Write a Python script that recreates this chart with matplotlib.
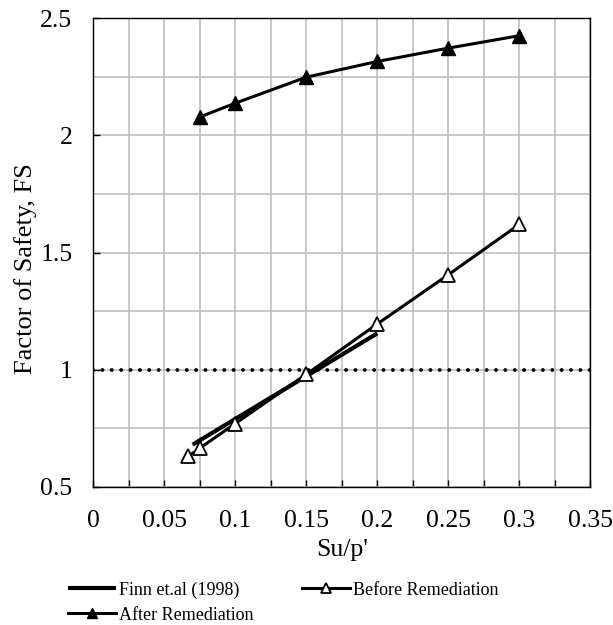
import matplotlib.pyplot as plt
import numpy as np
from matplotlib.ticker import MultipleLocator

plt.rcParams['font.family'] = ['Liberation Serif', 'DejaVu Serif']

# data
finn_x = [0.07, 0.2]
finn_fs = [0.68, 1.155]

before_x = [0.067, 0.075, 0.1, 0.15, 0.2, 0.25, 0.3]
before_fs = [0.63, 0.665, 0.77, 0.98, 1.195, 1.405, 1.62]

after_x = [0.075, 0.1, 0.15, 0.2, 0.25, 0.3]
after_fs = [2.078, 2.137, 2.248, 2.315, 2.372, 2.425]

x_ticks = [0, 0.05, 0.1, 0.15, 0.2, 0.25, 0.3, 0.35]
x_labels = ['0', '0.05', '0.1', '0.15', '0.2', '0.25', '0.3', '0.35']
y_ticks = [0.5, 1, 1.5, 2, 2.5]
y_labels = ['0.5', '1', '1.5', '2', '2.5']

fig = plt.figure(figsize=(6.13, 6.25), dpi=100)
ax = fig.add_axes([0.152, 0.221, 0.811, 0.750])

l_finn, = ax.plot(finn_x, finn_fs, color='black', lw=3, solid_capstyle='butt',
                  label='Finn et.al (1998)', zorder=3)
l_before, = ax.plot(before_x, before_fs, color='black', lw=2.2, marker='^', ms=10, mfc='white',
                    mec='black', mew=1.3, label='Before Remediation', zorder=4)
l_after, = ax.plot(after_x, after_fs, color='black', lw=2.2, marker='^', ms=10.5, mfc='black',
                   mec='black', label='After Remediation', zorder=4)
ax.axhline(1.0, color='black', lw=2.8, ls=(0, (0.01, 2.4)), dash_capstyle='round', zorder=2)

ax.set_xlim(0, 0.35)
ax.set_ylim(0.5, 2.5)
ax.set_xticks(x_ticks, x_labels)
ax.set_yticks(y_ticks, y_labels)
ax.xaxis.set_minor_locator(MultipleLocator(0.025))
ax.yaxis.set_minor_locator(MultipleLocator(0.25))
ax.grid(which='both', color='#bfbfbf', lw=1.2, zorder=0)
ax.set_axisbelow(True)
ax.tick_params(which='both', direction='in', labelsize=18.5, length=5, width=1)
ax.tick_params(axis='x', pad=17)
ax.tick_params(axis='y', pad=15)
ax.tick_params(axis='y', which='minor', length=0)
for s in ax.spines.values():
    s.set_linewidth(1)

ax.set_xlabel("Su/p'", fontsize=18.5, labelpad=5)
ax.set_ylabel('Factor of Safety, FS', fontsize=19)
ax.yaxis.set_label_coords(-0.113, 0.465)

# row-major order: Finn, Before / After
ax.legend([l_finn, l_after, l_before],
          ['Finn et.al (1998)', 'After Remediation', 'Before Remediation'],
          loc='upper left', bbox_to_anchor=(-0.065, -0.186), ncol=2, frameon=False,
          fontsize=13, handlelength=2.65, handletextpad=0.15, columnspacing=2.73,
          labelspacing=0.45, markerscale=0.75, borderaxespad=0)

fig.savefig('out.png', dpi=100)
